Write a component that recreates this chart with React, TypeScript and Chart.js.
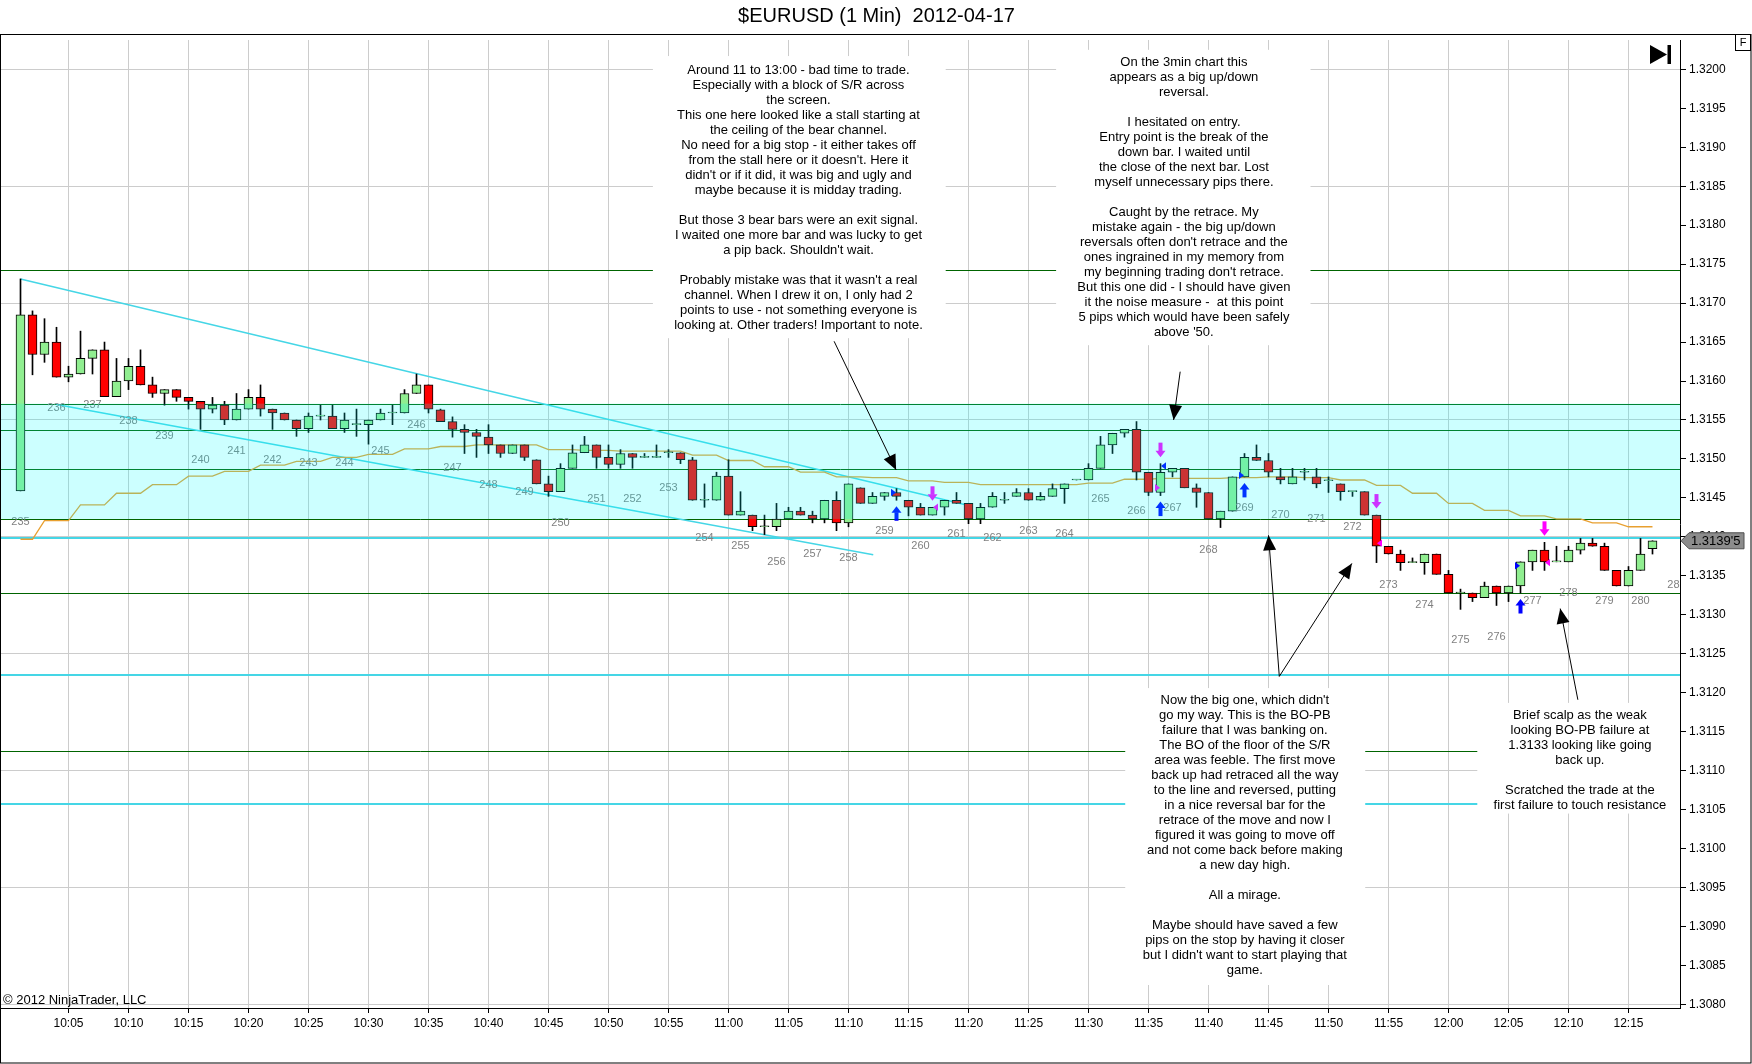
import React, { useEffect, useRef } from "react";
import { Chart, registerables } from "chart.js";

Chart.register(...registerables);

// ---------------- DATA ----------------
const TITLE = "$EURUSD (1 Min)  2012-04-17";
const FIRST_BAR_MINUTE = 1; // 10:01 = minute 1 after 10:00

const opens = [
  1.31459, 1.31685, 1.31634, 1.3165, 1.31605, 1.31609, 1.31629, 1.3164, 1.3158, 1.316,
  1.31619, 1.31595, 1.31584, 1.31589, 1.31579, 1.31574, 1.31564, 1.31569, 1.3155, 1.31564,
  1.31579, 1.31564, 1.31559, 1.3155, 1.31539, 1.31555, 1.31555, 1.31539, 1.31544, 1.31544,
  1.3155, 1.31559, 1.31559, 1.31584, 1.31595, 1.31563, 1.31548, 1.31538, 1.31534, 1.31528,
  1.31518, 1.31507, 1.31518, 1.31499, 1.31468, 1.31458, 1.31488, 1.31508, 1.31518, 1.31502,
  1.31493, 1.31507, 1.31502, 1.31502, 1.31508, 1.31508, 1.31499, 1.31447, 1.31447, 1.31478,
  1.31428, 1.31428, 1.31413, 1.31413, 1.31423, 1.31433, 1.31428, 1.31423, 1.31447, 1.31418,
  1.31463, 1.31443, 1.31452, 1.31457, 1.31447, 1.31438, 1.31428, 1.31438, 1.31447, 1.31443,
  1.31423, 1.31438, 1.31447, 1.31452, 1.31457, 1.31447, 1.31452, 1.31462, 1.31473, 1.31473,
  1.31488, 1.31518, 1.31533, 1.31538, 1.31483, 1.31457, 1.31483, 1.31488, 1.31463, 1.31457,
  1.31423, 1.31433, 1.31477, 1.31502, 1.31498, 1.31477, 1.31468, 1.31483, 1.31477, 1.31472,
  1.31468, 1.31458, 1.31458, 1.31428, 1.31388, 1.31378, 1.31367, 1.31367, 1.31378, 1.31352,
  1.31328, 1.31328, 1.31322, 1.31337, 1.31328, 1.31337, 1.31368, 1.31383, 1.31368, 1.31368,
  1.31383, 1.31392, 1.31388, 1.31357, 1.31337, 1.31357, 1.31385,
];
const highs = [
  1.31731, 1.3169, 1.3168, 1.31669, 1.31619, 1.31664, 1.3164, 1.3165, 1.31629, 1.31629,
  1.3164, 1.31605, 1.31589, 1.31589, 1.31579, 1.31574, 1.31579, 1.31574, 1.31584, 1.31589,
  1.31595, 1.31564, 1.31559, 1.3155, 1.31559, 1.31569, 1.31569, 1.31559, 1.31564, 1.3155,
  1.31564, 1.31569, 1.31589, 1.31609, 1.31595, 1.31564, 1.31554, 1.31544, 1.31538, 1.31544,
  1.31518, 1.31518, 1.31518, 1.31499, 1.31478, 1.31494, 1.31518, 1.31529, 1.31518, 1.31518,
  1.31512, 1.31507, 1.31507, 1.31518, 1.31512, 1.31508, 1.31502, 1.31468, 1.31483, 1.31499,
  1.31458, 1.31428, 1.31428, 1.31443, 1.31438, 1.31438, 1.31433, 1.31447, 1.31458, 1.31468,
  1.31463, 1.31457, 1.31457, 1.31462, 1.31447, 1.31443, 1.31438, 1.31447, 1.31457, 1.31443,
  1.31443, 1.31457, 1.31457, 1.31462, 1.31462, 1.31457, 1.31468, 1.31468, 1.31473, 1.31494,
  1.31529, 1.31533, 1.31538, 1.31548, 1.31483, 1.31494, 1.31488, 1.31488, 1.31468, 1.31457,
  1.31433, 1.31477, 1.31507, 1.31518, 1.31507, 1.31488, 1.31488, 1.31488, 1.31488, 1.31477,
  1.31468, 1.31458, 1.31458, 1.31428, 1.31388, 1.31383, 1.31373, 1.31378, 1.31378, 1.31357,
  1.31333, 1.31328, 1.31342, 1.31337, 1.31337, 1.31368, 1.31383, 1.31393, 1.31388, 1.31388,
  1.31398, 1.31398, 1.31392, 1.31357, 1.31362, 1.31398, 1.31395,
];
const lows = [
  1.31459, 1.31608, 1.31624, 1.31605, 1.31599, 1.31609, 1.31609, 1.3158, 1.3158, 1.31589,
  1.31595, 1.31579, 1.31569, 1.31574, 1.31564, 1.31538, 1.31559, 1.31544, 1.3155, 1.31564,
  1.31555, 1.31538, 1.3155, 1.31529, 1.31534, 1.3155, 1.31539, 1.31534, 1.31529, 1.31519,
  1.3155, 1.31544, 1.31559, 1.31584, 1.31559, 1.31548, 1.31528, 1.31507, 1.31502, 1.31507,
  1.31502, 1.31507, 1.31498, 1.31468, 1.31452, 1.31458, 1.31488, 1.31508, 1.31488, 1.31488,
  1.31488, 1.31488, 1.31502, 1.31502, 1.31502, 1.31494, 1.31447, 1.31438, 1.31447, 1.31428,
  1.31428, 1.31408, 1.31403, 1.31408, 1.31423, 1.31428, 1.31418, 1.31418, 1.31408, 1.31413,
  1.31443, 1.31443, 1.31447, 1.31447, 1.31427, 1.31428, 1.31428, 1.31428, 1.31443, 1.31417,
  1.31417, 1.31438, 1.31443, 1.31452, 1.31447, 1.31447, 1.31452, 1.31443, 1.31473, 1.31473,
  1.31488, 1.31507, 1.31528, 1.31473, 1.31453, 1.31453, 1.31477, 1.31463, 1.31438, 1.31423,
  1.31412, 1.31433, 1.31477, 1.31498, 1.31477, 1.31468, 1.31468, 1.31473, 1.31463, 1.31457,
  1.31447, 1.31452, 1.31428, 1.31367, 1.31378, 1.31357, 1.31367, 1.31352, 1.31352, 1.31328,
  1.31307, 1.31317, 1.31322, 1.31312, 1.31317, 1.31328, 1.31357, 1.31357, 1.31368, 1.31368,
  1.31378, 1.31388, 1.31357, 1.31337, 1.31337, 1.31357, 1.31378,
];
const closes = [
  1.31685, 1.31634, 1.3165, 1.31605, 1.31609, 1.31629, 1.3164, 1.3158, 1.316, 1.31619,
  1.31595, 1.31584, 1.31589, 1.31579, 1.31574, 1.31564, 1.31569, 1.3155, 1.31564, 1.31579,
  1.31564, 1.31559, 1.3155, 1.31539, 1.31555, 1.31555, 1.31539, 1.3155, 1.31544, 1.3155,
  1.31559, 1.31559, 1.31584, 1.31595, 1.31564, 1.31548, 1.31538, 1.31534, 1.31529, 1.31518,
  1.31507, 1.31518, 1.31502, 1.31468, 1.31458, 1.31488, 1.31508, 1.31518, 1.31502, 1.31493,
  1.31507, 1.31502, 1.31502, 1.31502, 1.31508, 1.31499, 1.31447, 1.31447, 1.31478, 1.31428,
  1.31433, 1.31413, 1.31413, 1.31423, 1.31433, 1.31428, 1.31423, 1.31447, 1.31418, 1.31468,
  1.31443, 1.31452, 1.31457, 1.31452, 1.31438, 1.31428, 1.31438, 1.31447, 1.31443, 1.31423,
  1.31438, 1.31452, 1.31447, 1.31457, 1.31447, 1.31452, 1.31462, 1.31468, 1.31473, 1.31488,
  1.31518, 1.31533, 1.31538, 1.31483, 1.31457, 1.31483, 1.31488, 1.31463, 1.31457, 1.31423,
  1.31433, 1.31477, 1.31502, 1.31498, 1.31483, 1.31473, 1.31477, 1.31483, 1.31468, 1.31472,
  1.31458, 1.31458, 1.31428, 1.31388, 1.31378, 1.31367, 1.31367, 1.31378, 1.31352, 1.31328,
  1.31328, 1.31322, 1.31337, 1.31328, 1.31337, 1.31368, 1.31383, 1.31368, 1.31368, 1.31383,
  1.31392, 1.31388, 1.31357, 1.31337, 1.31357, 1.31378, 1.31395,
];

// 3-minute moving average, one value per 3-minute bar (start minute of each)
const maGroupStarts = [
  0, 3, 6, 9, 12, 15, 18, 21, 24, 27, 30, 33, 36, 39, 42, 45, 48, 51, 54, 57, 60, 63, 66,
  69, 72, 75, 78, 81, 84, 87, 90, 93, 96, 99, 102, 105, 108, 111, 114, 117, 120, 123, 126,
  129, 132, 135,
];
const maGroupValues = [
  1.31397, 1.31421, 1.31441, 1.31456, 1.31467, 1.31478, 1.31484, 1.31492, 1.31497, 1.31502,
  1.31506, 1.31513, 1.31516, 1.31518, 1.31518, 1.31512, 1.31511, 1.3151, 1.3151, 1.31505,
  1.31498, 1.3149, 1.31483, 1.31477, 1.31476, 1.31472, 1.3147, 1.31467, 1.31467, 1.31467,
  1.31469, 1.31474, 1.31475, 1.31475, 1.31476, 1.31477, 1.31476, 1.31473, 1.31466, 1.31456,
  1.31443, 1.31434, 1.31427, 1.31423, 1.31418, 1.31413,
];

const greenLevels = [1.31743, 1.31571, 1.31537, 1.31487, 1.31423, 1.31328, 1.31125];
const cyanLevels = [1.31398, 1.31223, 1.31057];
const zoneTop = 1.31571;
const zoneBottom = 1.31423;

const upperTrendX = [1, 80.1];
const upperTrendY = [1.31731, 1.3144];
const lowerTrendX = [4, 72.06];
const lowerTrendY = [1.3157, 1.31377];

const barNumberMinutes = [
  1, 4, 7, 10, 13, 16, 19, 22, 25, 28, 31, 34, 37, 40, 43, 46, 49, 52, 55, 58, 61, 64, 67,
  70, 73, 76, 79, 82, 85, 88, 91, 94, 97, 100, 103, 106, 109, 112, 115, 118, 121, 124, 127,
  130, 133, 136, 139,
];
const barNumberTexts = [
  "235", "236", "237", "238", "239", "240", "241", "242", "243", "244", "245", "246", "247",
  "248", "249", "250", "251", "252", "253", "254", "255", "256", "257", "258", "259", "260",
  "261", "262", "263", "264", "265", "266", "267", "268", "269", "270", "271", "272", "273",
  "274", "275", "276", "277", "278", "279", "280", "281",
];

const sellArrowMinutes = [77, 96, 114, 128];
const buyArrowMinutes = [74, 96, 103, 126];
const entryMarkMinutes = [74, 96, 103, 126];
const entryMarkPrices = [1.31457, 1.31491, 1.31479, 1.31363];
const entryMarkSides = [-1, 1, -1, -1]; // -1: left of bar, 1: right of bar
const exitMarkMinutes = [77, 96, 114, 128];
const exitMarkPrices = [1.31438, 1.31463, 1.31392, 1.31367];
const exitMarkSides = [1, -1, 1, 1];

const lastPrice = 1.31395;
const lastPriceLabel = "1.3139'5";

const xTickMinutes = [
  5, 10, 15, 20, 25, 30, 35, 40, 45, 50, 55, 60, 65, 70, 75, 80, 85, 90, 95, 100, 105, 110,
  115, 120, 125, 130, 135,
];
const xTickLabels = [
  "10:05", "10:10", "10:15", "10:20", "10:25", "10:30", "10:35", "10:40", "10:45", "10:50",
  "10:55", "11:00", "11:05", "11:10", "11:15", "11:20", "11:25", "11:30", "11:35", "11:40",
  "11:45", "11:50", "11:55", "12:00", "12:05", "12:10", "12:15",
];
const yTickValues = [
  1.308, 1.3085, 1.309, 1.3095, 1.31, 1.3105, 1.311, 1.3115, 1.312, 1.3125, 1.313, 1.3135,
  1.314, 1.3145, 1.315, 1.3155, 1.316, 1.3165, 1.317, 1.3175, 1.318, 1.3185, 1.319, 1.3195,
  1.32,
];
const yTickLabels = [
  "1.3080", "1.3085", "1.3090", "1.3095", "1.3100", "1.3105", "1.3110", "1.3115", "1.3120",
  "1.3125", "1.3130", "1.3135", "1.3140", "1.3145", "1.3150", "1.3155", "1.3160", "1.3165",
  "1.3170", "1.3175", "1.3180", "1.3185", "1.3190", "1.3195", "1.3200",
];
const yGridValues = [1.308, 1.3095, 1.311, 1.3125, 1.314, 1.3155, 1.317, 1.3185, 1.32];

const note1 = [
  "Around 11 to 13:00 - bad time to trade.",
  "Especially with a block of S/R across",
  "the screen.",
  "This one here looked like a stall starting at",
  "the ceiling of the bear channel.",
  "No need for a big stop - it either takes off",
  "from the stall here or it doesn't. Here it",
  "didn't or if it did, it was big and ugly and",
  "maybe because it is midday trading.",
  "",
  "But those 3 bear bars were an exit signal.",
  "I waited one more bar and was lucky to get",
  "a pip back. Shouldn't wait.",
  "",
  "Probably mistake was that it wasn't a real",
  "channel. When I drew it on, I only had 2",
  "points to use - not something everyone is",
  "looking at. Other traders! Important to note.",
];
const note2 = [
  "On the 3min chart this",
  "appears as a big up/down",
  "reversal.",
  "",
  "I hesitated on entry.",
  "Entry point is the break of the",
  "down bar. I waited until",
  "the close of the next bar. Lost",
  "myself unnecessary pips there.",
  "",
  "Caught by the retrace. My",
  "mistake again - the big up/down",
  "reversals often don't retrace and the",
  "ones ingrained in my memory from",
  "my beginning trading don't retrace.",
  "But this one did - I should have given",
  "it the noise measure -  at this point",
  "5 pips which would have been safely",
  "above '50.",
];
const note3 = [
  "Now the big one, which didn't",
  "go my way. This is the BO-PB",
  "failure that I was banking on.",
  "The BO of the floor of the S/R",
  "area was feeble. The first move",
  "back up had retraced all the way",
  "to the line and reversed, putting",
  "in a nice reversal bar for the",
  "retrace of the move and now I",
  "figured it was going to move off",
  "and not come back before making",
  "a new day high.",
  "",
  "All a mirage.",
  "",
  "Maybe should have saved a few",
  "pips on the stop by having it closer",
  "but I didn't want to start playing that",
  "game.",
];
const note4 = [
  "Brief scalp as the weak",
  "looking BO-PB failure at",
  "1.3133 looking like going",
  "back up.",
  "",
  "Scratched the trade at the",
  "first failure to touch resistance",
];

// ---------------- LAYOUT / STYLE ----------------
const FONT = "'Liberation Sans', Arial, Helvetica, sans-serif";
const X_MIN = -0.625;
const X_MAX = 139.2917;
const Y_MIN = 1.307955;
const Y_MAX = 1.320376;
const GRID = "rgb(204,204,204)";
const GREEN_LINE = "#006400";
const CYAN_LINE = "#45d6e6";
const MA_COLOR = "rgb(232,160,48)";
const UP_COLOR = "rgb(144,238,144)";
const DOWN_COLOR = "#ff0000";
const ZONE_FILL = "rgba(0,255,255,0.2)";
const LINE_H = 15;

const notes = [
  { lines: note1, left: 53.7, right: 78.1, top: 1.32017, bottom: 1.31655, textX: 65.83, textY: 1.31999 },
  { lines: note2, left: 87.3, right: 108.5, top: 1.32025, bottom: 1.31646, textX: 97.95, textY: 1.32009 },
  { lines: note3, left: 93.06, right: 113.06, top: 1.31206, bottom: 1.30825, textX: 103.03, textY: 1.3119 },
  { lines: note4, left: 122.4, right: 139.4, top: 1.31187, bottom: 1.31045, textX: 130.95, textY: 1.31171 },
];
const callouts = [
  { fx: 68.8, fy: 1.31651, tx: 73.97, ty: 1.31486 },
  { fx: 97.64, fy: 1.31612, tx: 97.09, ty: 1.3155 },
  { fx: 105.9, fy: 1.31221, tx: 105.0, ty: 1.31402 },
  { fx: 105.9, fy: 1.31221, tx: 111.95, ty: 1.31366 },
  { fx: 130.78, fy: 1.31191, tx: 129.31, ty: 1.31308 },
];

// ---------------- BUILD DATASETS ----------------
const barMinute = (i: number) => FIRST_BAR_MINUTE + i;
const bodyData = opens.map((o, i) => ({ x: barMinute(i), y: [o, closes[i]] }));
const wickData = lows.map((l, i) => ({ x: barMinute(i), y: [l, highs[i]] }));
const bodyColors = opens.map((o, i) => (closes[i] < o ? DOWN_COLOR : UP_COLOR));
const lastMinute = barMinute(opens.length - 1);
const maData: { x: number; y: number }[] = [];
maGroupStarts.forEach((g, i) => {
  maData.push({ x: Math.max(g, FIRST_BAR_MINUTE), y: maGroupValues[i] });
  maData.push({ x: Math.min(g + 2, lastMinute), y: maGroupValues[i] });
});

const idxOf = (m: number) => Math.max(0, Math.min(m - FIRST_BAR_MINUTE, lows.length - 1));

function arrowHead(ctx: CanvasRenderingContext2D, x1: number, y1: number, x2: number, y2: number) {
  const ang = Math.atan2(y2 - y1, x2 - x1);
  const len = 15;
  const hw = 6.5;
  const bx = x2 - len * Math.cos(ang);
  const by = y2 - len * Math.sin(ang);
  ctx.beginPath();
  ctx.moveTo(x2, y2);
  ctx.lineTo(bx + hw * Math.sin(ang), by - hw * Math.cos(ang));
  ctx.lineTo(bx - hw * Math.sin(ang), by + hw * Math.cos(ang));
  ctx.closePath();
  ctx.fill();
}

function sideTriangle(ctx: CanvasRenderingContext2D, x: number, y: number, side: number) {
  // side -1: sits left of bar centre pointing right; side 1: right of centre pointing left
  const outer = x + side * 5.5;
  const tip = x + side * 0.5;
  ctx.beginPath();
  ctx.moveTo(outer, y - 3.7);
  ctx.lineTo(outer, y + 3.7);
  ctx.lineTo(tip, y);
  ctx.closePath();
  ctx.fill();
}

const annotationPlugin = {
  id: "ntAnnotations",
  beforeDatasetsDraw(chart: any) {
    const { ctx, chartArea: a } = chart;
    const ys = chart.scales.y;
    ctx.save();
    ctx.beginPath();
    ctx.rect(a.left, a.top, a.right - a.left, a.bottom - a.top);
    ctx.clip();
    ctx.lineWidth = 1;
    ctx.strokeStyle = GREEN_LINE;
    greenLevels.forEach((l) => {
      const y = Math.round(ys.getPixelForValue(l)) + 0.5;
      ctx.beginPath();
      ctx.moveTo(a.left, y);
      ctx.lineTo(a.right, y);
      ctx.stroke();
    });
    ctx.lineWidth = 2;
    ctx.strokeStyle = CYAN_LINE;
    cyanLevels.forEach((l) => {
      const y = Math.round(ys.getPixelForValue(l));
      ctx.beginPath();
      ctx.moveTo(a.left, y);
      ctx.lineTo(a.right, y);
      ctx.stroke();
    });
    ctx.restore();
  },
  afterDatasetsDraw(chart: any) {
    const { ctx, chartArea: a } = chart;
    const xs = chart.scales.x;
    const ys = chart.scales.y;
    ctx.save();
    ctx.beginPath();
    ctx.rect(a.left, a.top, a.right - a.left, a.bottom - a.top);
    ctx.clip();

    // bar numbers
    ctx.font = `11px ${FONT}`;
    ctx.fillStyle = "#808080";
    ctx.textAlign = "center";
    ctx.textBaseline = "middle";
    barNumberMinutes.forEach((m, i) => {
      const y = ys.getPixelForValue(lows[idxOf(m)]) + 31;
      ctx.fillText(barNumberTexts[i], xs.getPixelForValue(m), y);
    });

    // sell arrows (magenta, above bar)
    ctx.fillStyle = "#ff00ff";
    sellArrowMinutes.forEach((m) => {
      const x = xs.getPixelForValue(m);
      const tip = ys.getPixelForValue(highs[idxOf(m)]) - 6.5;
      ctx.fillRect(x - 2, tip - 14.5, 4, 8.5);
      ctx.beginPath();
      ctx.moveTo(x, tip);
      ctx.lineTo(x - 5, tip - 6.5);
      ctx.lineTo(x + 5, tip - 6.5);
      ctx.closePath();
      ctx.fill();
    });
    // buy arrows (blue, below bar)
    ctx.fillStyle = "#0000ff";
    buyArrowMinutes.forEach((m) => {
      const x = xs.getPixelForValue(m);
      const tip = ys.getPixelForValue(lows[idxOf(m)]) + 6;
      ctx.fillRect(x - 2, tip + 6, 4, 8.5);
      ctx.beginPath();
      ctx.moveTo(x, tip);
      ctx.lineTo(x - 5, tip + 6.5);
      ctx.lineTo(x + 5, tip + 6.5);
      ctx.closePath();
      ctx.fill();
    });
    // entry / exit markers
    ctx.fillStyle = "#0000ff";
    entryMarkMinutes.forEach((m, i) => {
      sideTriangle(ctx, xs.getPixelForValue(m), ys.getPixelForValue(entryMarkPrices[i]), entryMarkSides[i]);
    });
    ctx.fillStyle = "#ff00ff";
    exitMarkMinutes.forEach((m, i) => {
      sideTriangle(ctx, xs.getPixelForValue(m), ys.getPixelForValue(exitMarkPrices[i]), exitMarkSides[i]);
    });

    // S/R zone overlay
    const zt = ys.getPixelForValue(zoneTop);
    const zb = ys.getPixelForValue(zoneBottom);
    ctx.fillStyle = ZONE_FILL;
    ctx.fillRect(a.left, zt, a.right - a.left, zb - zt);
    ctx.restore();
  },
  afterDraw(chart: any) {
    const { ctx, chartArea: a, width, height } = chart;
    const xs = chart.scales.x;
    const ys = chart.scales.y;
    ctx.save();
    ctx.beginPath();
    ctx.rect(a.left, a.top, a.right - a.left, a.bottom - a.top);
    ctx.clip();

    // text notes
    ctx.font = `13px ${FONT}`;
    ctx.textAlign = "center";
    ctx.textBaseline = "middle";
    notes.forEach((n) => {
      const l = xs.getPixelForValue(n.left);
      const r = xs.getPixelForValue(n.right);
      const t = ys.getPixelForValue(n.top);
      const b = ys.getPixelForValue(n.bottom);
      ctx.fillStyle = "#ffffff";
      ctx.fillRect(l, t, r - l, b - t);
      ctx.fillStyle = "#000000";
      const cx = xs.getPixelForValue(n.textX);
      const ty = ys.getPixelForValue(n.textY);
      n.lines.forEach((s, i) => {
        if (s) ctx.fillText(s, cx, ty + i * LINE_H);
      });
    });

    // callout arrows
    ctx.strokeStyle = "#000";
    ctx.fillStyle = "#000";
    ctx.lineWidth = 1;
    callouts.forEach((c) => {
      const x1 = xs.getPixelForValue(c.fx);
      const y1 = ys.getPixelForValue(c.fy);
      const x2 = xs.getPixelForValue(c.tx);
      const y2 = ys.getPixelForValue(c.ty);
      ctx.beginPath();
      ctx.moveTo(x1, y1);
      ctx.lineTo(x2, y2);
      ctx.stroke();
      arrowHead(ctx, x1, y1, x2, y2);
    });

    // copyright
    ctx.font = `13px ${FONT}`;
    ctx.textAlign = "left";
    ctx.textBaseline = "middle";
    ctx.fillStyle = "#000";
    ctx.fillText("\u00a9 2012 NinjaTrader, LLC", a.left + 2, a.bottom - 8);

    // "go to last bar" icon
    ctx.beginPath();
    ctx.moveTo(a.right - 30, a.top + 5);
    ctx.lineTo(a.right - 30, a.top + 24);
    ctx.lineTo(a.right - 13, a.top + 14.5);
    ctx.closePath();
    ctx.fill();
    ctx.fillRect(a.right - 12.5, a.top + 5, 3.5, 19);
    ctx.restore();

    // last price tag
    ctx.save();
    const py = ys.getPixelForValue(lastPrice);
    const x0 = a.right + 1;
    ctx.beginPath();
    ctx.moveTo(x0, py);
    ctx.lineTo(x0 + 8, py - 8);
    ctx.lineTo(x0 + 63, py - 8);
    ctx.lineTo(x0 + 63, py + 8);
    ctx.lineTo(x0 + 8, py + 8);
    ctx.closePath();
    ctx.fillStyle = "#8c8c8c";
    ctx.fill();
    ctx.strokeStyle = "#505050";
    ctx.lineWidth = 1;
    ctx.stroke();
    ctx.fillStyle = "#000";
    ctx.font = `13px ${FONT}`;
    ctx.textAlign = "left";
    ctx.textBaseline = "middle";
    ctx.fillText(lastPriceLabel, x0 + 10, py + 0.5);

    // outer frame
    ctx.strokeStyle = "#000";
    ctx.lineWidth = 1;
    ctx.strokeRect(0.5, 34.5, width - 1.5, height - 35.5);
    // F box
    ctx.strokeRect(width - 16.5, 34.5, 15, 16);
    ctx.font = `11px ${FONT}`;
    ctx.textAlign = "center";
    ctx.fillText("F", width - 9, 43);
    ctx.restore();
  },
};

export default function App() {
  const ref = useRef<HTMLCanvasElement>(null);
  useEffect(() => {
    const canvas = ref.current;
    if (!canvas) return;
    const datasets: any[] = [
      {
        type: "bar",
        label: "bodies",
        data: bodyData,
        backgroundColor: bodyColors,
        borderColor: "#000",
        borderWidth: 1,
        borderSkipped: false,
        barThickness: 9,
        minBarLength: 1,
        grouped: false,
        order: 1,
      },
      {
        type: "bar",
        label: "wicks",
        data: wickData,
        backgroundColor: "#000",
        borderWidth: 0,
        barThickness: 1,
        grouped: false,
        order: 2,
      },
      {
        type: "line",
        label: "ma",
        data: maData,
        borderColor: MA_COLOR,
        borderWidth: 1.3,
        pointRadius: 0,
        tension: 0,
        fill: false,
        order: 3,
      },
      {
        type: "line",
        label: "upper",
        data: upperTrendX.map((x, i) => ({ x, y: upperTrendY[i] })),
        borderColor: CYAN_LINE,
        borderWidth: 1.5,
        pointRadius: 0,
        tension: 0,
        fill: false,
        order: 4,
      },
      {
        type: "line",
        label: "lower",
        data: lowerTrendX.map((x, i) => ({ x, y: lowerTrendY[i] })),
        borderColor: CYAN_LINE,
        borderWidth: 1.5,
        pointRadius: 0,
        tension: 0,
        fill: false,
        order: 4,
      },
    ];

    const chart = new Chart(canvas, {
      type: "bar",
      data: { datasets },
      options: {
        responsive: false,
        animation: false,
        devicePixelRatio: 1,
        events: [],
        layout: { padding: { left: 1, right: 0, top: 0, bottom: 0 } },
        plugins: {
          legend: { display: false },
          tooltip: { enabled: false },
          title: {
            display: true,
            text: TITLE,
            color: "#000",
            font: { size: 20, family: FONT, weight: "normal" },
            padding: { top: 4, bottom: 12 },
          },
        },
        scales: {
          x: {
            type: "linear",
            min: X_MIN,
            max: X_MAX,
            offset: false,
            afterBuildTicks: (s: any) => {
              s.ticks = xTickMinutes.map((v) => ({ value: v }));
            },
            afterFit: (s: any) => {
              s.height = 56;
            },
            grid: { color: GRID, offset: false, tickLength: 5, tickColor: "#000", lineWidth: 1 },
            border: { color: "#000", width: 1 },
            ticks: {
              autoSkip: false,
              maxRotation: 0,
              padding: 3,
              color: "#000",
              font: { size: 12, family: FONT },
              callback: (_v: any, i: number) => xTickLabels[i],
            },
          },
          y: {
            type: "linear",
            position: "right",
            min: Y_MIN,
            max: Y_MAX,
            beginAtZero: false,
            afterBuildTicks: (s: any) => {
              s.ticks = yTickValues.map((v) => ({ value: v }));
            },
            afterFit: (s: any) => {
              s.width = 72;
            },
            grid: {
              color: (c: any) =>
                c.tick && yGridValues.some((g) => Math.abs(g - c.tick.value) < 1e-7)
                  ? GRID
                  : "rgba(0,0,0,0)",
              tickColor: "#000",
              tickLength: 6,
            },
            border: { color: "#000", width: 1 },
            ticks: {
              autoSkip: false,
              padding: 3,
              color: "#000",
              font: { size: 12, family: FONT },
              callback: (_v: any, i: number) => yTickLabels[i],
            },
          },
        },
      } as any,
      plugins: [annotationPlugin as any],
    } as any);
    return () => chart.destroy();
  }, []);

  return (
    <div
      style={{
        position: "absolute",
        left: 0,
        top: 0,
        width: 1752,
        height: 1064,
        background: "#ffffff",
        overflow: "hidden",
      }}
    >
      <canvas ref={ref} width={1752} height={1064} style={{ display: "block", width: 1752, height: 1064 }} />
    </div>
  );
}
